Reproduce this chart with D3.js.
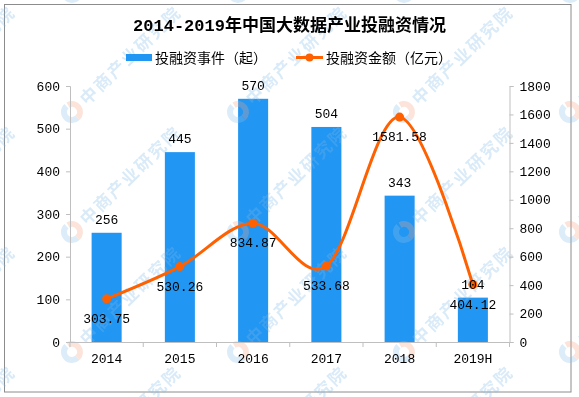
<!DOCTYPE html>
<html>
<head>
<meta charset="utf-8">
<script src="https://cdn.jsdelivr.net/npm/d3@7"></script>
<style>
  body { margin: 0; background: #fff; }
  text { font-family: "Liberation Mono", "Noto Sans CJK SC", monospace; }
</style>
</head>
<body>
<script>
// chart data
var years = ['2014', '2015', '2016', '2017', '2018', '2019H'];
var dealCounts = [256, 445, 570, 504, 343, 104];
var dealAmounts = [303.75, 530.26, 834.87, 533.68, 1581.58, 404.12];
var leftTicks = [0, 100, 200, 300, 400, 500, 600];
var rightTicks = [0, 200, 400, 600, 800, 1000, 1200, 1400, 1600, 1800];

var barColor = '#2196F3';
var lineColor = '#FF6000';
var axisColor = '#bfbfbf';

var W = 579, H = 397;
// plot box (don't use "top", it is window.top)
var plotLeft = 70, plotRight = 509.5, plotTop = 86, plotBottom = 342;

var svg = d3.select('body').append('svg')
            .attr('width', W)
            .attr('height', H)
            .style('background-color', '#fff');

// outer frame
svg.append('rect')
   .attr('x', 4.5).attr('y', 4.5)
   .attr('width', 566.5).attr('height', 387.5)
   .attr('fill', 'none')
   .attr('stroke', '#8c8c8c');

var x = d3.scaleBand()
          .domain(years)
          .range([plotLeft, plotRight])
          .paddingInner(0.59)
          .paddingOuter(0.295);

var yL = d3.scaleLinear().domain([0, 600]).range([plotBottom, plotTop]);
var yR = d3.scaleLinear().domain([0, 1800]).range([plotBottom, plotTop]);

var cx = function (d, i) { return x(years[i]) + x.bandwidth() / 2; };

// bars
svg.append('g').selectAll('rect')
   .data(dealCounts)
   .enter().append('rect')
   .attr('x', function (d, i) { return x(years[i]); })
   .attr('y', function (d) { return yL(d); })
   .attr('width', x.bandwidth())
   .attr('height', function (d) { return plotBottom - yL(d); })
   .attr('fill', barColor);

// watermarks (中商产业研究院)
var marks = svg.append('g').attr('opacity', 0.3);
[-94, 72, 238, 404, 570].forEach(function (mx) {
  [-8, 112, 232, 352, 472].forEach(function (my) {
    var g = marks.append('g')
                 .attr('transform', 'translate(' + mx + ',' + my + ') rotate(-44)');
    g.append('path')
     .attr('d', d3.arc()({innerRadius: 5, outerRadius: 11, startAngle: Math.PI, endAngle: 2 * Math.PI}))
     .attr('fill', '#8cc0ea');
    g.append('path')
     .attr('d', d3.arc()({innerRadius: 5, outerRadius: 11, startAngle: 0.25, endAngle: Math.PI}))
     .attr('fill', '#f5a585');
    g.append('text')
     .attr('x', 15).attr('y', 0).attr('dy', '0.36em')
     .attr('font-family', 'Noto Sans CJK SC')
     .attr('font-size', 17)
     .attr('font-weight', 'bold')
     .attr('letter-spacing', 2)
     .attr('fill', '#7fb8e6')
     .text('中商产业研究院');
  });
});

// left axis
var axL = svg.append('g')
             .attr('transform', 'translate(' + plotLeft + ',0)')
             .call(d3.axisLeft(yL).tickValues(leftTicks).tickFormat(d3.format('d'))
                     .tickSize(4).tickPadding(6));
// right axis
var axR = svg.append('g')
             .attr('transform', 'translate(' + plotRight + ',0)')
             .call(d3.axisRight(yR).tickValues(rightTicks).tickFormat(d3.format('d'))
                     .tickSize(4).tickPadding(6));
// bottom axis, labels only
var axB = svg.append('g')
             .attr('transform', 'translate(0,' + plotBottom + ')')
             .call(d3.axisBottom(x).tickSize(0).tickPadding(11.5));

[axL, axR, axB].forEach(function (ax) {
  ax.selectAll('.domain').attr('stroke', axisColor);
  ax.selectAll('.tick line').attr('stroke', axisColor);
  ax.selectAll('text')
    .attr('font-family', 'Liberation Mono')
    .attr('font-size', 13)
    .attr('fill', '#000');
});
axB.select('.domain').attr('d', 'M' + plotLeft + ',0.5H' + plotRight);

// category boundary ticks
svg.append('g').selectAll('line')
   .data(d3.range(years.length + 1))
   .enter().append('line')
   .attr('x1', function (i) { return plotLeft + i * x.step(); })
   .attr('x2', function (i) { return plotLeft + i * x.step(); })
   .attr('y1', plotBottom).attr('y2', plotBottom + 5)
   .attr('stroke', axisColor);

// smoothed line
var line = d3.line()
             .x(cx)
             .y(function (d) { return yR(d); })
             .curve(d3.curveCardinal.tension(0));

svg.append('path')
   .datum(dealAmounts)
   .attr('d', line)
   .attr('fill', 'none')
   .attr('stroke', lineColor)
   .attr('stroke-width', 3);

svg.append('g').selectAll('circle')
   .data(dealAmounts)
   .enter().append('circle')
   .attr('cx', cx)
   .attr('cy', function (d) { return yR(d); })
   .attr('r', 4.5)
   .attr('fill', lineColor);

// bar labels
svg.append('g').selectAll('text')
   .data(dealCounts)
   .enter().append('text')
   .attr('x', cx)
   .attr('y', function (d) { return yL(d) - 9; })
   .attr('text-anchor', 'middle')
   .attr('font-size', 13)
   .attr('fill', '#000')
   .text(function (d) { return d; });

// line labels
svg.append('g').selectAll('text')
   .data(dealAmounts)
   .enter().append('text')
   .attr('x', cx)
   .attr('y', function (d) { return yR(d) + 24; })
   .attr('text-anchor', 'middle')
   .attr('font-size', 13)
   .attr('fill', '#000')
   .text(function (d) { return d.toFixed(2); });

// title
svg.append('text')
   .attr('x', W / 2).attr('y', 31)
   .attr('text-anchor', 'middle')
   .attr('font-size', 17)
   .attr('font-weight', 'bold')
   .attr('fill', '#000')
   .text('2014-2019年中国大数据产业投融资情况');

// legend
var leg = svg.append('g');
leg.append('rect')
   .attr('x', 126).attr('y', 54)
   .attr('width', 26).attr('height', 7)
   .attr('fill', barColor);
leg.append('text')
   .attr('x', 155).attr('y', 63)
   .attr('font-family', 'Noto Sans CJK SC')
   .attr('font-size', 14)
   .attr('fill', '#000')
   .text('投融资事件（起）');
leg.append('line')
   .attr('x1', 296).attr('x2', 323)
   .attr('y1', 57.5).attr('y2', 57.5)
   .attr('stroke', lineColor)
   .attr('stroke-width', 3);
leg.append('circle')
   .attr('cx', 309.5).attr('cy', 57.5)
   .attr('r', 4)
   .attr('fill', lineColor);
leg.append('text')
   .attr('x', 326).attr('y', 63)
   .attr('font-family', 'Noto Sans CJK SC')
   .attr('font-size', 14)
   .attr('fill', '#000')
   .text('投融资金额（亿元）');
</script>
</body>
</html>
